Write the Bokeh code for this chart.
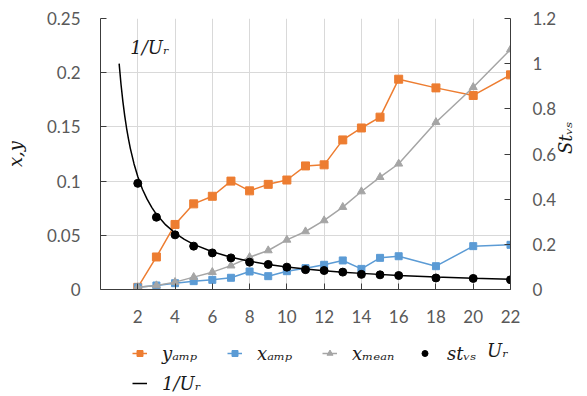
import math
from bokeh.plotting import figure
from bokeh.layouts import column
from bokeh.models import Range1d, LinearAxis, FixedTicker, Legend, LegendItem, Label
from bokeh.embed import file_html
from bokeh.resources import INLINE

# ---- data ----
ur = [2, 3, 4, 5, 6, 7, 8, 9, 10, 11, 12, 13, 14, 15, 16, 18, 20, 22]
y_amp = [0.002, 0.030, 0.060, 0.079, 0.086, 0.100, 0.091, 0.097, 0.101, 0.114,
         0.115, 0.138, 0.149, 0.159, 0.194, 0.186, 0.179, 0.198]
x_amp = [0.002, 0.0037, 0.0058, 0.0077, 0.0089, 0.0108, 0.0166, 0.0123, 0.0169, 0.0197,
         0.0228, 0.0268, 0.019, 0.0292, 0.0307, 0.0215, 0.040, 0.0412]
x_mean = [0.002, 0.0037, 0.0068, 0.0114, 0.016, 0.022, 0.0298, 0.036, 0.0458, 0.0535,
          0.0637, 0.076, 0.0904, 0.1036, 0.116, 0.1543, 0.1866, 0.2214]
st_vs = [0.47, 0.32, 0.242, 0.192, 0.162, 0.140, 0.121, 0.111, 0.099, 0.088,
         0.084, 0.077, 0.067, 0.065, 0.062, 0.051, 0.049, 0.043]

# 1/U_r reference curve (right axis)
ur_curve = [1, 1.1, 1.2, 1.3, 1.4, 1.5, 1.6, 1.8, 2, 2.25, 2.5, 2.75, 3, 3.5, 4, 4.5,
            5, 6, 7, 8, 9, 10, 11, 12, 13, 14, 16, 18, 20, 22]
inv_curve = [1.0, 0.909, 0.833, 0.769, 0.714, 0.667, 0.625, 0.556, 0.5, 0.444, 0.4,
             0.364, 0.333, 0.286, 0.25, 0.222, 0.2, 0.167, 0.143, 0.125, 0.111, 0.1,
             0.0909, 0.0833, 0.0769, 0.0714, 0.0625, 0.0556, 0.05, 0.0455]

x_ticks = [2, 4, 6, 8, 10, 12, 14, 16, 18, 20, 22]
x_tick_labels = ["2", "4", "6", "8", "10", "12", "14", "16", "18", "20", "22"]
left_ticks = [0, 0.05, 0.1, 0.15, 0.2, 0.25]
left_tick_labels = ["0", "0.05", "0.1", "0.15", "0.2", "0.25"]
right_ticks = [0, 0.2, 0.4, 0.6, 0.8, 1.0, 1.2]
right_tick_labels = ["0", "0.2", "0.4", "0.6", "0.8", "1", "1.2"]

ORANGE = "#ED7D31"
BLUE = "#5B9BD5"
GRAY = "#A5A5A5"
AXIS = "#3c3c3c"
TICKTXT = "#595959"
TXT = "#1a1a1a"
MATHFONT = "DejaVu Serif"

p = figure(frame_width=410, frame_height=271,
           x_range=Range1d(0, 22), y_range=Range1d(0, 0.25),
           output_backend="svg", toolbar_location=None,
           min_border_left=100, min_border_right=77,
           min_border_top=18, min_border_bottom=41)
p.extra_y_ranges = {"right": Range1d(0, 1.2)}
p.add_layout(LinearAxis(y_range_name="right"), "right")
p.outline_line_color = None

p.xaxis.ticker = FixedTicker(ticks=x_ticks)
p.xaxis.major_label_overrides = dict(zip(x_ticks, x_tick_labels))
p.yaxis[0].ticker = FixedTicker(ticks=left_ticks)
p.yaxis[0].major_label_overrides = dict(zip(left_ticks, left_tick_labels))
p.yaxis[1].ticker = FixedTicker(ticks=right_ticks)
p.yaxis[1].major_label_overrides = dict(zip(right_ticks, right_tick_labels))

for ax in p.axis:
    ax.axis_line_color = AXIS
    ax.axis_line_width = 1
    ax.major_tick_line_color = AXIS
    ax.major_tick_in = 6
    ax.major_tick_out = 0
    ax.minor_tick_line_color = None
    ax.major_label_text_font = "Lato"
    ax.major_label_text_font_size = "17px"
    ax.major_label_text_color = TICKTXT
    ax.axis_label_text_font = MATHFONT
    ax.axis_label_text_font_style = "italic"
    ax.axis_label_text_font_size = "18px"
    ax.axis_label_text_color = TXT
p.xaxis.major_label_standoff = 20
p.yaxis[0].major_label_standoff = 20
p.yaxis[1].major_label_standoff = 22
p.yaxis[0].axis_label = "x,y"
p.yaxis[0].axis_label_standoff = 18
p.yaxis[1].axis_label = "Stᵥₛ"
p.yaxis[1].axis_label_standoff = 6
if "axis_label_orientation" in p.yaxis[1].properties():
    p.yaxis[1].axis_label_orientation = math.pi / 2

p.xgrid.ticker = FixedTicker(ticks=x_ticks)
p.ygrid.ticker = FixedTicker(ticks=left_ticks)
p.grid.grid_line_color = "#d9d9d9"
p.grid.grid_line_width = 1

p.line(ur, y_amp, line_color=ORANGE, line_width=1.5)
p.scatter(ur, y_amp, marker="square", size=8, fill_color=ORANGE, line_color=ORANGE)
p.line(ur, x_amp, line_color=BLUE, line_width=1.5)
p.scatter(ur, x_amp, marker="square", size=7, fill_color=BLUE, line_color=BLUE)
p.line(ur, x_mean, line_color=GRAY, line_width=1.5)
p.scatter(ur, x_mean, marker="triangle", size=8, fill_color=GRAY, line_color=GRAY)
p.line(ur_curve, inv_curve, y_range_name="right", line_color="black", line_width=1.5)
p.scatter(ur, st_vs, y_range_name="right", marker="circle", size=8,
          fill_color="black", line_color="black")

common = dict(text_font=MATHFONT, text_font_style="italic", text_color=TXT)
p.add_layout(Label(x=1.6, y=0.2232, text="1/Uᵣ", text_align="left", text_baseline="middle",
                   text_font_size="18px", **common))

# ---- legend strip below the chart (its frame lines up with the chart's frame) ----
q = figure(width=587, height=66, x_range=Range1d(-10, -9), y_range=Range1d(-10, -9),
           x_axis_type=None, y_axis_type=None, output_backend="svg",
           toolbar_location=None, min_border=0)
q.outline_line_color = None
q.grid.visible = False

# same series, kept outside the strip's visible ranges: only their legend glyphs show
qo_l = q.line(ur, y_amp, line_color=ORANGE, line_width=1.5)
qo_s = q.scatter(ur, y_amp, marker="square", fill_color=ORANGE, line_color=ORANGE)
qb_l = q.line(ur, x_amp, line_color=BLUE, line_width=1.5)
qb_s = q.scatter(ur, x_amp, marker="square", fill_color=BLUE, line_color=BLUE)
qg_l = q.line(ur, x_mean, line_color=GRAY, line_width=1.5)
qg_s = q.scatter(ur, x_mean, marker="triangle", fill_color=GRAY, line_color=GRAY)
qk_s = q.scatter(ur, st_vs, marker="circle", fill_color="black", line_color="black")
qk_l = q.line(ur_curve, inv_curve, line_color="black", line_width=1.5)


def style_legend(lgd):
    lgd.padding = 0
    lgd.margin = 0
    lgd.spacing = 8
    lgd.glyph_width = 15
    lgd.glyph_height = 22
    lgd.label_height = 22
    lgd.label_width = 57
    lgd.label_standoff = 15
    lgd.border_line_alpha = 0
    lgd.background_fill_alpha = 0
    lgd.label_text_font = MATHFONT
    lgd.label_text_font_style = "italic"
    lgd.label_text_font_size = "18px"
    lgd.label_text_color = TXT


leg1 = Legend(items=[
    LegendItem(label="yₐₘₚ", renderers=[qo_l, qo_s]),
    LegendItem(label="xₐₘₚ", renderers=[qb_l, qb_s]),
    LegendItem(label="xₘₑₐₙ", renderers=[qg_l, qg_s]),
    LegendItem(label="stᵥₛ", renderers=[qk_s]),
], location=(32, 32), orientation="horizontal")
style_legend(leg1)
leg2 = Legend(items=[LegendItem(label="1/Uᵣ", renderers=[qk_l])],
              location=(32, 2), orientation="horizontal")
style_legend(leg2)
q.add_layout(leg1)
q.add_layout(leg2)

# x-axis title U_r at the right end of the first legend row
q.add_layout(Label(x=408, y=46, x_units="screen", y_units="screen", text="Uᵣ",
                   text_align="right", text_baseline="middle",
                   text_font_size="18px", **common))

layout = column(p, q, spacing=0)
open("out.html", "w").write(file_html(layout, INLINE))
